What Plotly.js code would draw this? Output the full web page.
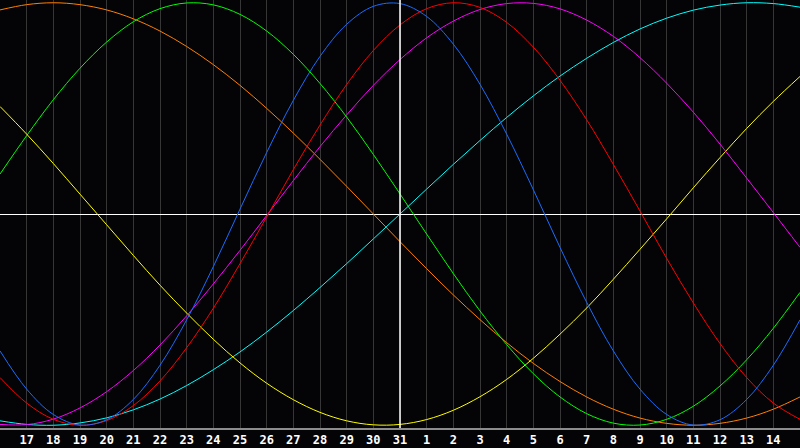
<!DOCTYPE html>
<html>
<head>
<meta charset="utf-8">
<script src="https://cdn.plot.ly/plotly-3.0.1.min.js"></script>
<style>
  html, body { margin: 0; padding: 0; background: #040407; }
  #myPlot { width: 800px; height: 448px; }
</style>
</head>
<body>
<div id="myPlot"></div>
<script>
// day labels, index 0 = the 16th (left edge), index 30 = the 15th (right edge)
let days = ['16','17','18','19','20','21','22','23','24','25','26','27','28','29','30','31',
            '1','2','3','4','5','6','7','8','9','10','11','12','13','14','15'];
let todayIndex = 15;

// curve values per day (-1 .. 1)
let physical = [-0.648,-0.829,-0.949,-0.999,-0.974,-0.878,-0.716,-0.501,-0.249,0.023,0.291,0.538,0.746,0.898,0.983,0.996,
                0.935,0.804,0.614,0.378,0.115,-0.158,-0.418,-0.648,-0.829,-0.949,-0.999,-0.974,-0.878,-0.716,-0.501];
let emotional = [-0.774,-0.895,-0.972,-1.000,-0.978,-0.907,-0.790,-0.633,-0.446,-0.235,-0.014,0.210,0.421,0.613,0.774,0.895,
                 0.972,1.000,0.978,0.907,0.790,0.633,0.446,0.235,0.014,-0.210,-0.421,-0.613,-0.774,-0.895,-0.972];
let intellectual = [0.189,0.371,0.541,0.690,0.814,0.910,0.972,0.999,0.990,0.945,0.866,0.756,0.618,0.459,0.282,0.095,
                    -0.095,-0.282,-0.459,-0.618,-0.756,-0.866,-0.945,-0.990,-0.999,-0.972,-0.910,-0.814,-0.690,-0.541,-0.371];
let intuitive = [-0.996,-0.997,-0.971,-0.918,-0.841,-0.741,-0.620,-0.482,-0.331,-0.172,-0.007,0.158,0.319,0.469,0.609,0.731,
                 0.834,0.913,0.968,0.996,0.997,0.971,0.918,0.841,0.740,0.619,0.482,0.331,0.170,0.007,-0.158];
let aesthetic = [0.509,0.378,0.239,0.094,-0.051,-0.196,-0.337,-0.469,-0.593,-0.705,-0.801,-0.879,-0.939,-0.979,-0.998,-0.996,
                 -0.973,-0.929,-0.865,-0.783,-0.683,-0.569,-0.445,-0.309,-0.167,-0.023,0.124,0.267,0.405,0.533,0.651];
let awareness = [0.966,0.991,1.000,0.991,0.966,0.924,0.866,0.793,0.707,0.609,0.500,0.383,0.259,0.131,0.000,-0.131,
                 -0.259,-0.383,-0.500,-0.609,-0.707,-0.793,-0.866,-0.924,-0.966,-0.991,-1.000,-0.991,-0.966,-0.924,-0.866];
let spiritual = [-0.979,-0.996,-1.000,-0.989,-0.965,-0.927,-0.876,-0.812,-0.737,-0.653,-0.559,-0.457,-0.348,-0.235,-0.118,0.000,
                 0.118,0.235,0.348,0.457,0.559,0.653,0.737,0.812,0.876,0.927,0.965,0.989,1.000,0.996,0.979];

let idx = days.map((d, i) => i);

function curve(values, color, name) {
    return {x: idx, y: values, mode: 'lines', name: name,
            line: {color: color, width: 1, shape: 'spline', smoothing: 1}, hoverinfo: 'skip'};
}

let data = [
    curve(awareness, '#ff7f00', 'awareness'),
    curve(intellectual, '#00ff00', 'intellectual'),
    curve(spiritual, '#00ffff', 'spiritual'),
    curve(aesthetic, '#ffff00', 'aesthetic'),
    curve(intuitive, '#ff00ff', 'intuitive'),
    curve(emotional, '#ff0000', 'emotional'),
    curve(physical, '#1a6cff', 'physical')
];

let tickIdx = idx.slice(1, -1);
let tickTxt = days.slice(1, -1);

let layout = {
    width: 800, height: 448,
    margin: {l: 0, r: 0, t: 0, b: 20, pad: 0},
    paper_bgcolor: '#040407',
    plot_bgcolor: '#040407',
    showlegend: false,
    xaxis: {
        range: [0, days.length - 1],
        tickmode: 'array', tickvals: tickIdx, ticktext: tickTxt,
        showgrid: true, gridcolor: '#363636', gridwidth: 1,
        showline: true, linecolor: '#8c8c8c', linewidth: 2, mirror: true,
        zeroline: false, ticks: '',
        tickfont: {family: 'DejaVu Sans Mono', size: 12, color: '#ffffff', weight: 'bold'},
        fixedrange: true
    },
    yaxis: {
        range: [-1.013, 1.013],
        showgrid: false, showticklabels: false, ticks: '',
        showline: true, linecolor: '#8c8c8c', linewidth: 2,
        zeroline: true, zerolinecolor: '#ffffff', zerolinewidth: 1,
        fixedrange: true
    },
    shapes: [{
        type: 'line', xref: 'x', yref: 'paper',
        x0: todayIndex, x1: todayIndex, y0: 0, y1: 1,
        line: {color: '#ffffff', width: 1.5}, layer: 'above'
    }]
};

Plotly.newPlot('myPlot', data, layout, {displayModeBar: false, staticPlot: true});
</script>
</body>
</html>
